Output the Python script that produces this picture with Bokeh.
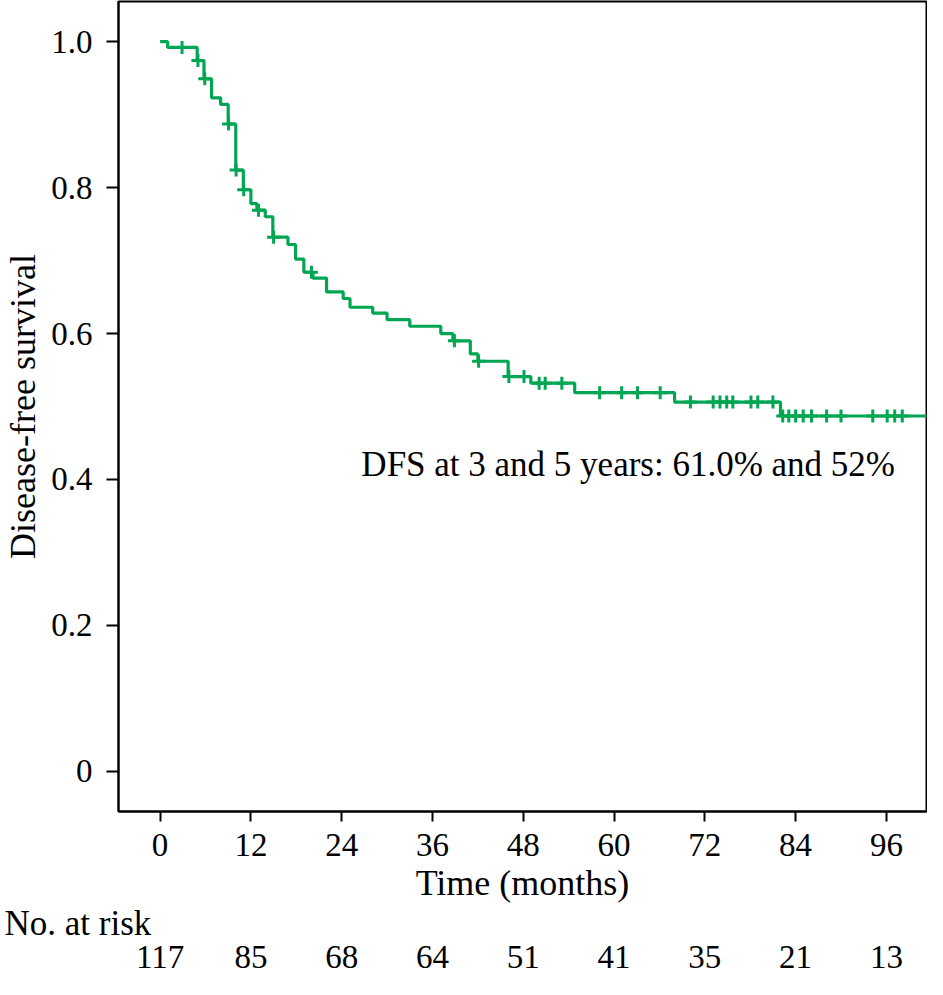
from bokeh.plotting import figure
from bokeh.models import Range1d, FixedTicker, LinearAxis, Label, Title
from bokeh.embed import file_html
from bokeh.resources import INLINE

# ---- data ----
event_times = [0, 1.0, 4.9, 5.8, 6.8, 8.0, 9.0, 10.0, 11.0, 12.0, 12.8, 13.9, 14.9,
               16.9, 17.9, 19.0, 20.2, 22.0, 24.2, 25.1, 28.1, 30.0, 33.0, 37.1,
               38.7, 41.0, 42.0, 46.0, 49.0, 54.8, 68.0, 82.0]
survival = [1.0, 0.992, 0.974, 0.949, 0.923, 0.914, 0.887, 0.824, 0.797, 0.778, 0.769,
            0.760, 0.732, 0.722, 0.702, 0.684, 0.676, 0.657, 0.648, 0.636, 0.628,
            0.619, 0.610, 0.600, 0.590, 0.572, 0.562, 0.541, 0.532, 0.519, 0.506, 0.487]
censor_times = [2.9, 5.0, 5.9, 9.05, 10.05, 11.05, 13.0, 15.0, 20.0, 38.9, 42.1,
                46.1, 48.1, 50.1, 50.9, 53.1, 58.1, 61.0, 63.1, 66.1, 70.1, 73.1,
                74.0, 74.9, 75.7, 78.1, 79.0, 81.0, 82.3, 83.1, 84.0, 85.0, 86.1,
                88.1, 90.0, 94.2, 96.1, 97.1, 98.1]
max_follow_up = 102.0
x_ticks = [0, 12, 24, 36, 48, 60, 72, 84, 96]
at_risk = [117, 85, 68, 64, 51, 41, 35, 21, 13]
y_ticks = [0, 0.2, 0.4, 0.6, 0.8, 1.0]
y_tick_labels = ["0", "0.2", "0.4", "0.6", "0.8", "1.0"]
annotation = "DFS at 3 and 5 years: 61.0% and 52%"
at_risk_title = "No. at risk"

FONT = "Liberation Serif"
GREEN = "#00A651"
X0, X1 = -5.5, 101.3
Y0, Y1 = -0.055, 1.055

def surv_at(t):
    s = survival[0]
    for et, sv in zip(event_times, survival):
        if et <= t:
            s = sv
    return s

p = figure(width=927, height=979, x_range=Range1d(X0, X1), y_range=Range1d(Y0, Y1),
           output_backend="svg", toolbar_location=None,
           min_border_left=116, min_border_right=1, min_border_top=1, min_border_bottom=168)
p.background_fill_color = "white"
p.border_fill_color = "white"
p.outline_line_color = "black"
p.outline_line_width = 2
p.xgrid.visible = False
p.ygrid.visible = False

# step curve
xs = event_times + [max_follow_up]
ys = survival + [survival[-1]]
p.step(xs, ys, mode="after", line_color=GREEN, line_width=3.2)
# censor marks
p.scatter(censor_times, [surv_at(t) for t in censor_times], marker="cross", size=13,
          line_color=GREEN, line_width=3)

def style_axis(ax):
    ax.major_label_text_font = FONT
    ax.major_label_text_color = "black"
    ax.axis_label_text_font = FONT
    ax.axis_label_text_color = "black"
    ax.axis_label_text_font_style = "normal"
    ax.major_tick_in = 0
    ax.minor_tick_out = 0
    ax.minor_tick_in = 0
    ax.major_tick_line_width = 2
    ax.major_tick_line_color = "black"
    ax.axis_line_width = 2
    ax.axis_line_color = "black"

# y axis
ya = p.yaxis[0]
style_axis(ya)
ya.ticker = FixedTicker(ticks=y_ticks)
ya.major_label_overrides = {t: l for t, l in zip(y_ticks, y_tick_labels)}
ya.axis_label = "Disease-free survival"
ya.axis_label_text_font_size = "36px"
ya.axis_label_standoff = 5
ya.major_label_text_font_size = "33px"
ya.major_label_standoff = 14
ya.major_tick_out = 12

# x axis
xa = p.xaxis[0]
style_axis(xa)
xa.ticker = FixedTicker(ticks=x_ticks)
xa.axis_label = "Time (months)"
xa.axis_label_text_font_size = "36px"
xa.axis_label_standoff = 4
xa.major_label_text_font_size = "33px"
xa.major_label_standoff = 12
xa.major_tick_out = 10

# number at risk row
p.add_layout(Title(text=at_risk_title, align="left", offset=-114, text_font=FONT,
                   text_font_size="35px", text_font_style="normal", text_color="black",
                   standoff=-8), "below")
ra = LinearAxis(ticker=FixedTicker(ticks=x_ticks),
                major_label_overrides={t: str(n) for t, n in zip(x_ticks, at_risk)},
                axis_line_color=None, major_tick_line_color=None, minor_tick_line_color=None,
                major_tick_out=0, major_tick_in=0, minor_tick_out=0, minor_tick_in=0,
                major_label_text_font=FONT, major_label_text_font_size="33px",
                major_label_text_color="black", major_label_standoff=7)
p.add_layout(ra, "below")

p.add_layout(Label(x=26.6, y=0.420, text=annotation, text_baseline="middle", text_align="left",
                   text_font=FONT, text_font_size="35px", text_color="black"))

open("out.html", "w").write(file_html(p, INLINE))
